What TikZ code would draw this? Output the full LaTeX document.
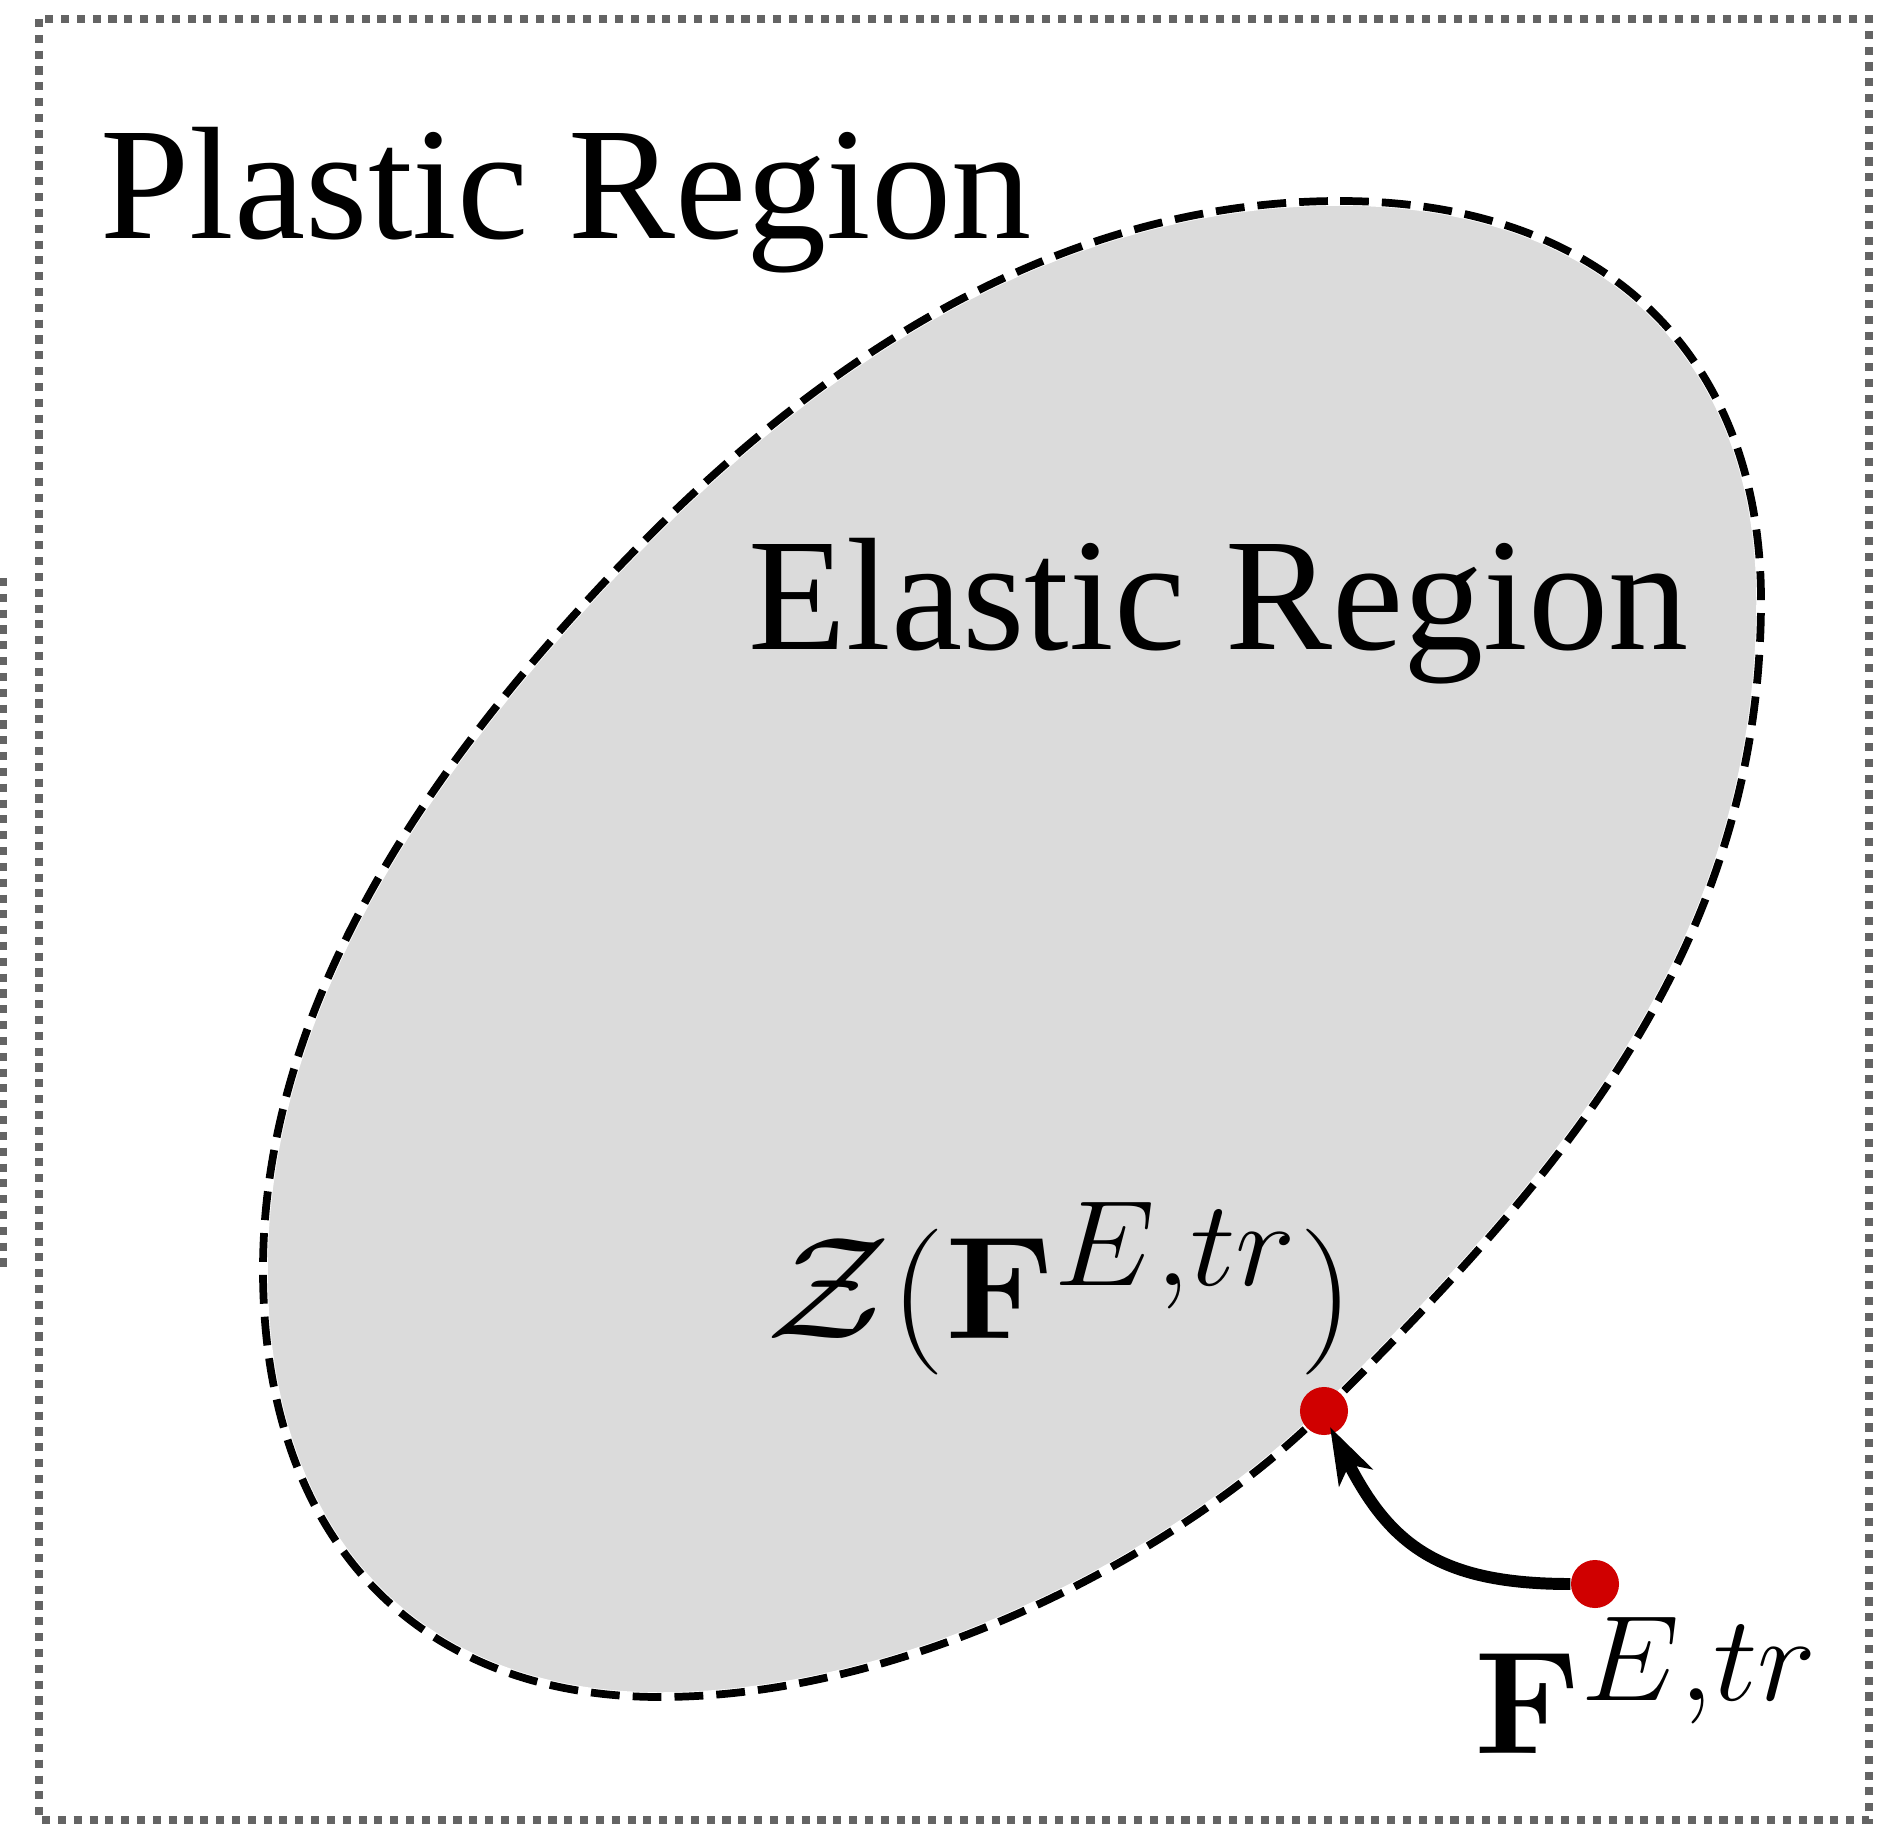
\documentclass[tikz,border=0pt]{standalone}
\usepackage{graphicx}
\usepackage[no-math]{fontspec}
\newfontfamily\tnr{Liberation Serif}
\usetikzlibrary{arrows.meta,calc}
\definecolor{bordergray}{RGB}{100,100,100}
\definecolor{regionfill}{RGB}{219,219,219}
\definecolor{dotred}{RGB}{208,0,0}
\newcommand{\bigmath}[2][1.765]{\scalebox{#1}[1.668]{\Huge$#2$}}
\tikzset{
  framedots/.style={draw=bordergray,line width=2.3pt,dash pattern=on 2.3pt off 2.2pt},
  regionline/.style={draw=black,line width=2.2pt,dash pattern=on 8.2pt off 3.7pt},
  bigtext/.style={inner sep=0pt,anchor=base west,font=\tnr\fontsize{45.6pt}{50pt}\selectfont},
  mathlabel/.style={inner sep=0pt,anchor=base west},
  reddot/.style={circle,fill=dotred,draw=none,minimum size=0.48cm,inner sep=0pt},
  movearrow/.style={line width=3.4pt,-{Stealth[length=16pt,width=10.5pt,inset=4pt]}}
}
\begin{document}
\begin{tikzpicture}[x=0.01cm,y=-0.01cm]
\useasboundingbox (0,0) rectangle (1896,1824);
% frames
\draw[framedots] (39,19) rectangle (1869,1820);
\draw[framedots] (3,578) -- (3,1268);
% elastic region
\def\regionpath{(1340,201) .. controls (1601,201) and (1761,353) .. (1761,600)
  .. controls (1761,960) and (1543,1192) .. (1324,1411)
  .. controls (1183,1552) and (910,1697) .. (660,1697)
  .. controls (414,1697) and (263,1535) .. (263,1270)
  .. controls (263,1010) and (423,780) .. (585,603)
  .. controls (753.5,418.5) and (1010,201) .. (1340,201) -- cycle}
\fill[regionfill] \regionpath;
\draw[white,line width=2.7pt] \regionpath;
\draw[regionline] \regionpath;
% texts
\node[bigtext] (plastic) at (100,238) {Plastic Region};
\node[bigtext] (elastic) at (748,649) {Elastic Region};
\node[mathlabel] (zlabel) at (766,1338) {\bigmath{\mathcal{Z}(\mathbf{F}^{E,tr})}};
\node[mathlabel] (flabel) at (1474,1753) {\bigmath[1.72]{\mathbf{F}^{E,tr}}};
% dots
\node[reddot] (d1) at (1324,1411) {};
\node[reddot] (d2) at (1595,1584) {};
\draw[movearrow] (d2.west) .. controls (1440,1584) and (1390,1545) .. ($(d1.center)+(6,16)$);
\end{tikzpicture}
\end{document}
